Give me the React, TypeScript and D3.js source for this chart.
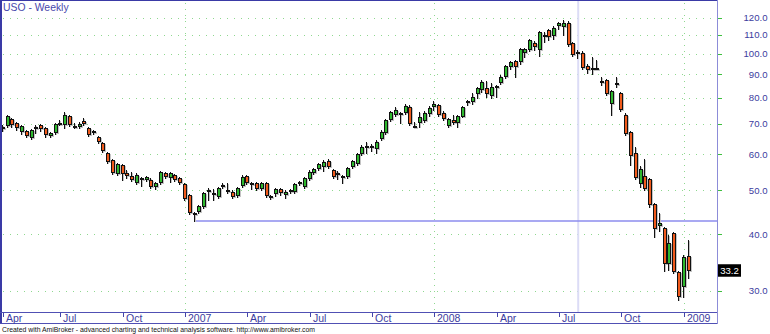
import React from 'react';
import * as d3 from 'd3';

// ---- data (weekly bars) ----
const firstWeek = new Date(2006, 3, 14);

const openP = [
  68.8, 69.3, 71.8, 70.3, 67.2, 67.6, 65.2, 68.9, 69.6, 68.6,
  65.9, 66.9, 70.2, 69.6, 72.8, 69.4, 68.9, 71.1, 68.6, 67.6,
  65.5, 63.5, 60.4, 58.3, 54.3, 56.8, 54.6, 53.7, 51.8, 53.0,
  52.6, 52.6, 50.8, 51.8, 54.6, 53.2, 54.0, 53.2, 51.6, 48.8,
  44.2, 44.8, 45.9, 49.8, 49.3, 48.3, 51.3, 50.0, 49.5, 48.6,
  51.0, 53.7, 51.8, 51.8, 50.3, 51.8, 48.1, 49.0, 50.3, 48.8,
  49.5, 49.5, 51.6, 50.8, 52.9, 54.6, 55.7, 56.2, 58.0, 55.4,
  54.6, 53.4, 53.5, 56.2, 57.1, 60.1, 62.7, 62.5, 61.6, 64.9,
  66.9, 71.4, 73.2, 73.5, 73.9, 76.2, 69.4, 70.3, 71.1, 73.6,
  76.3, 77.0, 73.9, 69.3, 71.4, 70.3, 72.5, 77.8, 78.2, 81.5,
  83.1, 84.0, 80.7, 84.9, 86.2, 88.8, 93.3, 96.3, 95.8, 100.5,
  101.9, 105.7, 101.9, 110.0, 112.7, 109.3, 114.9, 114.5, 116.9, 105.4,
  99.7, 100.2, 93.9, 92.9, 92.8, 87.0, 87.5, 77.4, 85.2, 81.8,
  73.2, 67.2, 60.4, 51.6, 53.7, 52.9, 46.6, 41.7, 41.3, 34.4,
  40.2, 33.0, 30.5, 35.8,
];

const highP = [
  69.6, 73.2, 72.1, 70.7, 69.6, 67.9, 68.2, 69.6, 70.0, 68.9,
  67.2, 70.3, 71.4, 74.3, 73.2, 70.3, 70.7, 72.1, 68.9, 67.9,
  65.9, 63.9, 60.7, 58.6, 57.4, 57.1, 55.4, 54.8, 54.6, 53.5,
  53.7, 53.2, 52.1, 55.1, 54.8, 54.8, 54.3, 53.5, 51.8, 49.0,
  44.8, 46.4, 49.5, 50.5, 50.3, 50.8, 51.8, 51.8, 50.0, 50.8,
  54.0, 54.0, 52.1, 52.1, 52.1, 52.1, 48.8, 50.5, 50.5, 50.0,
  50.3, 51.8, 52.3, 53.5, 55.4, 56.0, 57.4, 58.3, 58.6, 55.7,
  55.1, 54.0, 56.2, 58.3, 60.4, 62.9, 63.9, 63.2, 64.5, 67.9,
  71.8, 74.7, 76.2, 74.3, 77.4, 77.0, 70.7, 74.3, 74.7, 76.6,
  78.6, 77.4, 74.7, 72.1, 73.2, 73.2, 76.6, 79.0, 82.0, 84.4,
  87.5, 86.8, 86.3, 85.3, 89.7, 94.4, 96.3, 96.8, 103.0, 103.0,
  107.7, 106.6, 112.1, 111.6, 113.3, 115.0, 117.4, 118.6, 118.3, 106.1,
  101.9, 101.4, 94.9, 98.2, 96.8, 88.9, 87.9, 83.1, 88.8, 82.3,
  73.9, 67.6, 62.3, 56.5, 58.6, 53.2, 46.9, 44.5, 41.5, 39.8,
  40.4, 33.2, 36.0, 38.8,
];

const lowP = [
  67.6, 68.9, 68.9, 67.9, 66.5, 65.5, 64.9, 66.9, 67.6, 65.5,
  65.5, 66.5, 69.6, 68.6, 69.3, 68.6, 68.6, 69.6, 65.9, 66.5,
  63.5, 60.7, 57.4, 54.3, 54.0, 52.6, 53.2, 52.3, 51.6, 51.0,
  52.3, 50.5, 50.3, 51.6, 53.2, 52.1, 52.3, 51.6, 47.5, 44.3,
  42.75, 44.5, 45.7, 47.6, 47.6, 48.1, 50.5, 49.3, 48.1, 48.3,
  50.8, 51.6, 50.3, 50.0, 50.0, 48.3, 47.8, 48.6, 48.8, 48.1,
  49.3, 49.3, 51.3, 50.5, 52.6, 54.3, 55.4, 55.1, 56.0, 53.2,
  52.9, 51.8, 53.2, 56.0, 56.8, 59.8, 60.4, 61.0, 60.4, 64.5,
  66.5, 71.1, 72.8, 70.4, 73.7, 69.6, 68.9, 68.9, 70.7, 72.8,
  75.1, 72.8, 71.4, 68.9, 70.0, 68.9, 72.3, 77.0, 77.4, 79.9,
  82.3, 80.3, 79.9, 80.1, 85.8, 88.4, 92.5, 89.0, 94.9, 98.3,
  101.4, 101.9, 98.8, 105.9, 107.2, 107.7, 113.3, 109.9, 104.0, 98.8,
  97.8, 92.5, 90.6, 90.2, 92.3, 85.3, 81.1, 73.2, 84.5, 74.7,
  66.2, 56.8, 52.9, 50.8, 50.0, 45.9, 39.4, 40.6, 33.2, 33.3,
  32.8, 28.6, 29.1, 32.0,
];

const closeP = [
  68.6, 72.8, 69.6, 68.6, 69.3, 65.9, 67.9, 68.7, 68.2, 66.2,
  66.9, 70.0, 70.4, 73.2, 69.6, 68.8, 70.0, 70.0, 66.2, 66.9,
  63.9, 61.0, 57.7, 54.6, 57.1, 54.3, 53.7, 52.6, 54.0, 53.1,
  53.5, 50.8, 51.8, 54.8, 53.5, 54.6, 52.6, 51.8, 47.8, 44.5,
  44.4, 46.2, 49.3, 50.0, 49.2, 50.5, 51.2, 50.1, 48.3, 50.5,
  53.5, 51.8, 51.7, 50.3, 51.8, 48.6, 48.6, 50.3, 49.3, 49.5,
  50.0, 51.6, 52.0, 53.2, 54.8, 55.7, 57.1, 57.7, 56.2, 53.5,
  54.5, 53.7, 56.0, 58.0, 60.1, 62.3, 62.5, 62.6, 63.9, 67.2,
  71.4, 74.3, 75.1, 73.9, 76.6, 70.0, 69.3, 72.5, 73.9, 75.8,
  77.4, 73.2, 71.8, 71.8, 70.3, 72.8, 76.2, 78.6, 80.3, 84.0,
  86.6, 81.5, 84.4, 84.8, 88.8, 93.9, 95.6, 93.5, 102.3, 102.3,
  107.2, 103.3, 111.8, 109.8, 108.9, 113.7, 116.6, 116.9, 104.5, 99.3,
  101.0, 92.8, 92.0, 92.8, 92.7, 86.2, 81.5, 82.7, 86.0, 75.1,
  66.5, 59.5, 53.2, 55.7, 50.3, 46.4, 41.0, 42.3, 34.4, 38.3,
  33.0, 29.1, 35.6, 33.2,
];

const yTickValues = [30, 40, 50, 60, 70, 80, 90, 100, 110, 120];
const titleText = 'USO - Weekly';
const footerText =
  'Created with AmiBroker - advanced charting and technical analysis software. http://www.amibroker.com';
const lastPriceLabel = '33.2';
const supportLevel = 42.75;
const supportStartBar = 40;
const cursorBar = 120;

const FONT = 'Arial, "Liberation Sans", sans-serif';

export default function App() {
  const W = 770;
  const H = 334;
  const plotRight = 717;
  const axisTop = 312.5;
  const axisBottom = 323.5;
  const n = closeP.length;

  const dates = d3.range(n).map((i) => d3.timeDay.offset(firstWeek, 7 * i));
  const x = d3.scaleLinear().domain([0, n - 1]).range([2.8, 688.5]);
  const y = d3.scaleLog().domain([30, 120]).range([290.7, 17.7]);

  const fmtMonth = d3.timeFormat('%b');
  const monthTicks: { i: number; label: string; year: boolean }[] = [];
  dates.forEach((d, i) => {
    const m = d.getMonth();
    if (m % 3 !== 0) return;
    if (i > 0 && dates[i - 1].getMonth() === m) return;
    monthTicks.push({
      i,
      label: m === 0 ? String(d.getFullYear()) : fmtMonth(d),
      year: m === 0,
    });
  });

  const up = '#2eb82e';
  const down = '#f05a1c';
  const grid = '#8fd88f';
  const frame = '#3a3aa6';
  const axisText = '#3c3c9e';

  const candles = d3.range(n).map((i) => {
    const xi = Math.round(x(i));
    const o = openP[i];
    const c = closeP[i];
    const top = Math.round(y(Math.max(o, c)));
    const bot = Math.max(top + 2, Math.round(y(Math.min(o, c))));
    const hy = Math.round(y(highP[i]));
    const ly = Math.round(y(lowP[i]));
    return { i, xi, top, bot, hy, ly, fill: c >= o ? up : down };
  });

  const supY = y(supportLevel);
  const lastY = y(closeP[n - 1]);

  return (
    <svg
      width={W}
      height={H}
      style={{ position: 'absolute', left: 0, top: 0, background: '#fff' }}
      fontFamily={FONT}
    >
      <rect x={0} y={0} width={W} height={H} fill="#fff" />
      {/* horizontal grid */}
      {yTickValues.map((v) => (
        <line
          key={'hg' + v}
          x1={3}
          x2={plotRight}
          y1={Math.round(y(v)) + 0.5}
          y2={Math.round(y(v)) + 0.5}
          stroke={grid}
          strokeWidth={1}
          strokeDasharray="1,6"
        />
      ))}
      {/* vertical grid at year starts */}
      {monthTicks
        .filter((t) => t.year)
        .map((t) => (
          <line
            key={'vg' + t.i}
            x1={Math.round(x(t.i)) + 0.5}
            x2={Math.round(x(t.i)) + 0.5}
            y1={3}
            y2={axisTop}
            stroke={grid}
            strokeWidth={1}
            strokeDasharray="1,5"
          />
        ))}
      {/* cursor line */}
      <line
        x1={x(cursorBar)}
        x2={x(cursorBar)}
        y1={1}
        y2={axisTop}
        stroke="#dcdcf6"
        strokeWidth={2}
      />
      {/* support line */}
      <line
        x1={x(supportStartBar)}
        x2={plotRight}
        y1={supY}
        y2={supY}
        stroke="#8c8cee"
        strokeWidth={1.5}
      />
      {/* candles */}
      <g shapeRendering="crispEdges">
        {candles.map((k) => (
          <g key={'s' + k.i} fill="#c4c4c4">
            <rect x={k.xi} y={k.hy + 1} width={1} height={k.ly - k.hy} />
            <rect x={k.xi - 1} y={k.top + 1} width={4} height={k.bot - k.top} />
          </g>
        ))}
        {candles.map((k) => (
          <g key={'c' + k.i}>
            <rect x={k.xi - 1} y={k.hy} width={1} height={k.ly - k.hy + 1} fill="#111" />
            <rect x={k.xi - 2} y={k.top} width={4} height={k.bot - k.top} fill="#111" />
            {k.bot - k.top > 2 && (
              <rect x={k.xi - 1} y={k.top + 1} width={2} height={k.bot - k.top - 2} fill={k.fill} />
            )}
          </g>
        ))}
      </g>
      {/* frame */}
      <g shapeRendering="crispEdges">
        <line x1={0} x2={plotRight} y1={0.5} y2={0.5} stroke={frame} strokeWidth={1.5} />
        <line x1={1} x2={1} y1={0} y2={axisBottom + 0.5} stroke={frame} strokeWidth={2} />
        <line x1={plotRight + 0.5} x2={plotRight + 0.5} y1={0} y2={axisBottom + 0.5} stroke="#8c8cd8" strokeWidth={1.5} />
        <line x1={0} x2={plotRight} y1={axisTop} y2={axisTop} stroke="#5050b4" strokeWidth={1} />
        <line x1={0} x2={plotRight} y1={axisBottom} y2={axisBottom} stroke="#5050b4" strokeWidth={1} />
      </g>
      {/* y axis */}
      {yTickValues.map((v) => (
        <g key={'yt' + v}>
          <line
            x1={plotRight + 1}
            x2={plotRight + 5}
            y1={Math.round(y(v)) + 0.5}
            y2={Math.round(y(v)) + 0.5}
            stroke="#3fbf3f"
            strokeWidth={1}
          />
          <text x={767.5} y={y(v) + 3.5} textAnchor="end" fontSize={9.6} fill={axisText}>
            {v.toFixed(1)}
          </text>
        </g>
      ))}
      {/* last price label */}
      <rect x={718} y={lastY - 6.5} width={23} height={12.5} fill="#000" />
      <text x={729.5} y={lastY + 3.2} textAnchor="middle" fontSize={9.6} fill="#fff">
        {lastPriceLabel}
      </text>
      {/* x axis ticks */}
      {monthTicks.map((t) => (
        <g key={'xt' + t.i}>
          <line
            x1={Math.round(x(t.i)) + 0.5}
            x2={Math.round(x(t.i)) + 0.5}
            y1={axisTop}
            y2={axisTop + 4.5}
            stroke="#4444aa"
            strokeWidth={1}
          />
          <text x={Math.round(x(t.i)) + 3} y={321.5} fontSize={10.5} fill={axisText}>
            {t.label}
          </text>
        </g>
      ))}
      {/* title */}
      <text x={3} y={11} fontSize={10.4} fill="#4848ac">
        {titleText}
      </text>
      {/* footer */}
      <text x={2} y={331.5} fontSize={7.6} fill="#111" textLength={313} lengthAdjust="spacingAndGlyphs">
        {footerText}
      </text>
    </svg>
  );
}
